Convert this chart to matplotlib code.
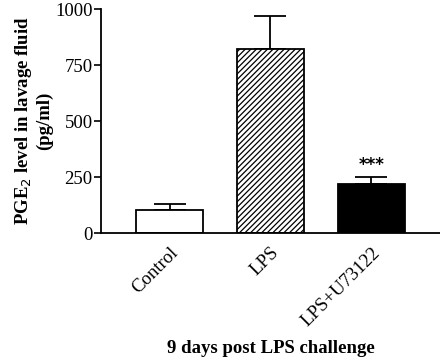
import matplotlib.pyplot as plt
import numpy as np

plt.rcParams['font.family'] = ['Liberation Serif', 'DejaVu Serif']
plt.rcParams['hatch.linewidth'] = 0.9

groups = ['Control', 'LPS', 'LPS+U73122']
means = [103, 822, 218]
errors = [25, 147, 32]
fills = ['white', 'white', 'black']
hatches = ['', '//////', '']
stars = ['', '', '***']

fig = plt.figure(figsize=(4.4, 3.63), dpi=100)
ax = fig.add_axes([0.2295, 0.358, 0.7705, 0.617])

x = np.arange(len(groups))
ax.errorbar(x, means, yerr=[np.zeros(len(errors)), errors], fmt='none',
            ecolor='black', elinewidth=1.3, capsize=11.5, capthick=1.3, zorder=1)
for xi, m, fc, h in zip(x, means, fills, hatches):
    ax.bar(xi, m, width=0.67, color=fc, edgecolor='black', linewidth=1.3,
           hatch=h, zorder=2)

for xi, m, e, s in zip(x, means, errors, stars):
    if s:
        ax.text(xi, m + e + 12, s, ha='center', va='bottom', fontsize=12,
                fontweight='bold', family='DejaVu Sans')

ax.set_xlim(-0.68, 2.68)
ax.set_ylim(0, 1000)
ax.set_yticks([0, 250, 500, 750, 1000])
ax.set_xticks(x)
ax.set_xticklabels(groups, rotation=45, ha='right', rotation_mode='anchor')
ax.tick_params(axis='x', length=0, pad=8, labelsize=13.5)
ax.tick_params(axis='y', length=5, width=1.2, labelsize=13.5, pad=1)
for side in ['top', 'right']:
    ax.spines[side].set_visible(False)
for side in ['left', 'bottom']:
    ax.spines[side].set_linewidth(1.3)

ax.set_ylabel('PGE$_2$ level in lavage fluid\n(pg/ml)', fontsize=13.5,
              fontweight='bold', linespacing=1.15)
ax.yaxis.set_label_coords(-0.14, 0.5)
fig.text(0.615, 0.04, '9 days post LPS challenge', ha='center', va='center',
         fontsize=13.5, fontweight='bold')

plt.savefig('out.png', dpi=100)
